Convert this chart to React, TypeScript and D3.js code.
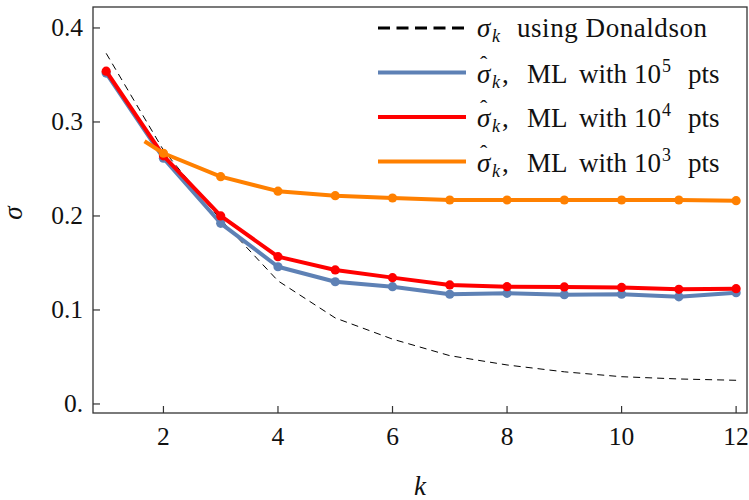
import * as d3 from "d3";

// k values and series
const ks = [1, 2, 3, 4, 5, 6, 7, 8, 9, 10, 11, 12];
const donaldson = [0.373, 0.27, 0.196, 0.131, 0.0915, 0.069, 0.0514, 0.0415, 0.0342, 0.029, 0.0266, 0.0252];
const ml1e5 = [0.352, 0.2614, 0.1922, 0.146, 0.130, 0.1248, 0.1167, 0.1177, 0.1163, 0.1167, 0.114, 0.1184];
const ml1e4 = [0.354, 0.264, 0.200, 0.1567, 0.1426, 0.1344, 0.1266, 0.1248, 0.1245, 0.124, 0.122, 0.1227];
const ml1e3 = [0.2667, 0.2418, 0.2264, 0.2216, 0.2191, 0.217, 0.217, 0.217, 0.217, 0.217, 0.2163, 0.217];
const ml1e3Ks = [2, 3, 4, 5, 6, 7, 8, 9, 10, 11, 12];
// the 10^3 curve starts mid-way between k=1 and k=2 (no marker there)
const ml1e3Start = { k: 1.67, v: 0.2795 };

const yTicks = [0, 0.1, 0.2, 0.3, 0.4];
const yTickLabels = ["0.", "0.1", "0.2", "0.3", "0.4"];
const xTicks = [2, 4, 6, 8, 10, 12];
const mlExponents = ["5", "4", "3"];

const BLUE = "#5E81B5";
const RED = "#FF0000";
const ORANGE = "#FF8000";
const FRAME = "#333333";
const TXT = "#111111";
const serif = { fontFamily: "Liberation Serif" };

type Pt = { k: number; v: number };

export default function App() {
  const width = 749;
  const height = 500;
  const left = 93, right = 747, top = 7, bottom = 413;

  const x = d3.scaleLinear().domain([0.77, 12.19]).range([left, right]);
  const y = d3.scaleLinear().domain([-0.0096, 0.4223]).range([bottom, top]);

  const line = d3.line<Pt>().x(d => x(d.k)).y(d => y(d.v));

  const dPts: Pt[] = ks.map((k, i) => ({ k, v: donaldson[i] }));
  const bPts: Pt[] = ks.map((k, i) => ({ k, v: ml1e5[i] }));
  const rPts: Pt[] = ks.map((k, i) => ({ k, v: ml1e4[i] }));
  const oPts: Pt[] = ml1e3Ks.map((k, i) => ({ k, v: ml1e3[i] }));

  const series = [
    { pts: bPts, line: [...bPts], color: BLUE },
    { pts: rPts, line: [...rPts], color: RED },
    { pts: oPts, line: [ml1e3Start, ...oPts], color: ORANGE },
  ];
  const legendColors = [BLUE, RED, ORANGE];

  const legX0 = 378, legX1 = 466, legTx = 477, legY0 = 28, legDy = 44.5;

  return (
    <svg width={width} height={height} style={{ position: "absolute", left: 0, top: 0 }}>
      <rect width={width} height={height} fill="#fff" />
      <defs>
        <clipPath id="plot">
          <rect x={left} y={top} width={right - left} height={bottom - top} />
        </clipPath>
      </defs>

      <g clipPath="url(#plot)">
        <path d={line(dPts) ?? ""} fill="none" stroke="#000" strokeWidth={1} strokeDasharray="7,5" />
        {series.map((s, i) => (
          <g key={i}>
            <path d={line(s.line) ?? ""} fill="none" stroke={s.color} strokeWidth={4} strokeLinejoin="round" />
            {s.pts.map((p, j) => (
              <circle key={j} cx={x(p.k)} cy={y(p.v)} r={4.6} fill={s.color} />
            ))}
          </g>
        ))}
      </g>

      {/* frame */}
      <rect x={left} y={top} width={right - left} height={bottom - top} fill="none" stroke={FRAME} strokeWidth={1.3} />

      {/* y ticks */}
      {yTicks.map((t, i) => (
        <g key={t}>
          <line x1={left} x2={left + 7} y1={y(t)} y2={y(t)} stroke={FRAME} strokeWidth={1.2} />
          <text x={83} y={y(t) + 8.5} textAnchor="end" fontSize={25.5} fill={TXT} style={serif}>{yTickLabels[i]}</text>
        </g>
      ))}

      {/* x ticks */}
      {xTicks.map(t => (
        <g key={t}>
          <line x1={x(t)} x2={x(t)} y1={bottom} y2={bottom - 7} stroke={FRAME} strokeWidth={1.2} />
          <text x={x(t)} y={445} textAnchor="middle" fontSize={25.5} fill={TXT} style={serif}>{t}</text>
        </g>
      ))}

      {/* axis labels */}
      <text x={420} y={495} textAnchor="middle" fontSize={27} fontStyle="italic" fill={TXT} style={serif}>k</text>
      <text transform="translate(22,213) rotate(-90)" textAnchor="middle" fontSize={27} fontStyle="italic" fill={TXT} style={serif}>σ</text>

      {/* legend */}
      <line x1={legX0} x2={legX1} y1={legY0} y2={legY0} stroke="#000" strokeWidth={3} strokeDasharray="12,6.5" />
      <text y={legY0 + 9} fontSize={27} fill={TXT} style={serif}>
        <tspan x={legTx} fontStyle="italic">σ</tspan>
        <tspan x={legTx + 15} dy={5} fontSize={18} fontStyle="italic">k</tspan>
      </text>
      <text x={517} y={legY0 + 9} fontSize={27} fill={TXT} style={serif} textLength={190} lengthAdjust="spacing">using Donaldson</text>
      {legendColors.map((c, i) => {
        const ly = legY0 + legDy * (i + 1);
        return (
          <g key={i}>
            <line x1={legX0} x2={legX1} y1={ly} y2={ly} stroke={c} strokeWidth={4} />
            <text y={ly + 10} fontSize={27} fill={TXT} style={serif}>
              <tspan x={legTx} fontStyle="italic">σ</tspan>
              <tspan x={legTx + 15} dy={5} fontSize={18} fontStyle="italic">k</tspan>
              <tspan x={legTx + 25} dy={-5}>,</tspan>
              <tspan x={527}>ML</tspan>
              <tspan x={579}>with</tspan>
              <tspan x={634}>10</tspan>
              <tspan x={662} dy={-11} fontSize={18}>{mlExponents[i]}</tspan>
              <tspan x={688} dy={11}>pts</tspan>
            </text>
            <text x={legTx + 3} y={ly - 2} fontSize={22} fill={TXT} style={serif}>ˆ</text>
          </g>
        );
      })}
    </svg>
  );
}
